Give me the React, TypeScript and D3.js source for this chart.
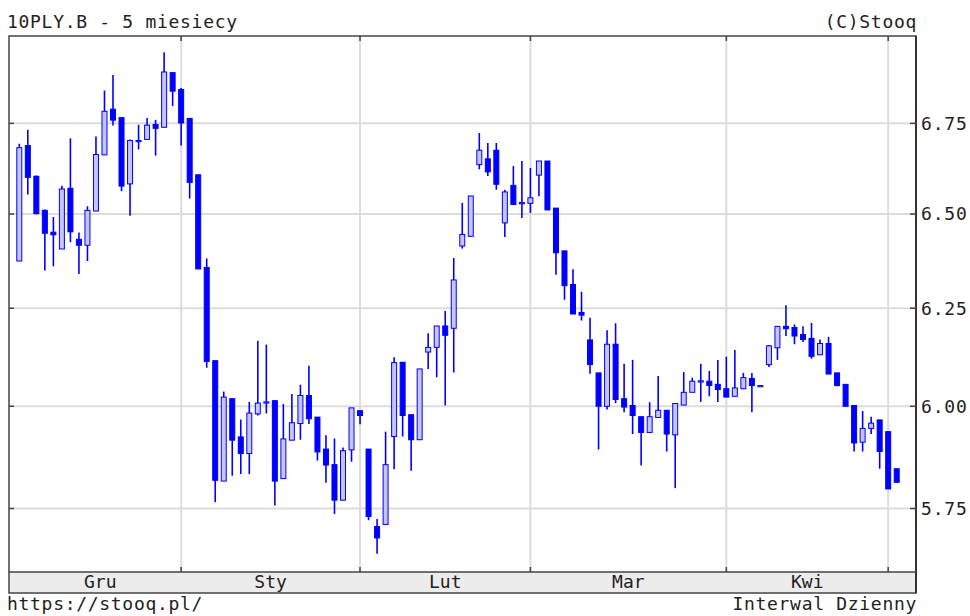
import { useEffect, useRef } from 'react';
import * as d3 from 'd3';

// daily candles, 10PLY.B (Dec -> early May)
const opens = [
  6.374, 6.688, 6.603, 6.51, 6.451, 6.406, 6.57, 6.432, 6.416, 6.508,
  6.662, 6.79, 6.766, 6.582, 6.7, 6.705, 6.747, 6.739, 6.894,
  6.846, 6.764, 6.607, 6.357, 6.115, 5.816, 6.019, 5.924, 5.883, 5.981,
  6.009, 6.014, 5.822, 5.916, 5.957, 6.027, 5.973, 5.894, 5.856, 5.77, 5.892,
  5.989, 5.894, 5.707, 5.712, 5.925, 6.111, 5.979, 5.917, 6.137, 6.149,
  6.204, 6.198, 6.414, 6.44, 6.635, 6.651, 6.675, 6.476, 6.578, 6.529,
  6.529, 6.606, 6.645, 6.516, 6.401, 6.312, 6.239, 6.168, 6.084, 6.0,
  6.157, 6.019, 6.002, 5.974, 5.935, 5.972, 5.99, 5.929, 6.003, 6.035,
  6.062, 6.063, 6.055,
  6.044, 6.025, 6.044, 6.07, 6.052, 6.105, 6.148, 6.203, 6.2, 6.182,
  6.172, 6.13, 6.159, 6.084, 6.055, 6.002, 5.911, 5.945, 5.966,
  5.937, 5.846,
];
const highs = [
  6.693, 6.732, 6.605, 6.512, 6.492, 6.577, 6.708, 6.45, 6.521, 6.713,
  6.843, 6.887, 6.766, 6.705, 6.746, 6.765, 6.76, 6.953, 6.894,
  6.85, 6.764, 6.607, 6.381, 6.115, 6.037, 6.019, 5.967, 6.011, 6.166,
  6.156, 6.014, 6.006, 6.031, 6.054, 6.102, 5.973, 5.928, 5.92, 5.898, 5.996,
  5.989, 5.894, 5.725, 5.937, 6.124, 6.111, 5.979, 6.094, 6.185, 6.204,
  6.243, 6.382, 6.53, 6.549, 6.723, 6.695, 6.695, 6.566, 6.631, 6.645,
  6.626, 6.645, 6.645, 6.516, 6.401, 6.352, 6.293, 6.225, 6.084, 6.193,
  6.211, 6.107, 6.117, 5.974, 6.01, 6.076, 5.99, 6.007, 6.086, 6.072,
  6.107, 6.089, 6.117,
  6.125, 6.142, 6.084, 6.084, 6.052, 6.155, 6.203, 6.258, 6.208, 6.203,
  6.212, 6.169, 6.176, 6.084, 6.055, 6.002, 5.988, 5.974, 5.966,
  5.937, 5.846,
];
const lows = [
  6.374, 6.553, 6.499, 6.349, 6.36, 6.406, 6.424, 6.34, 6.374, 6.508,
  6.662, 6.744, 6.562, 6.495, 6.677, 6.705, 6.66, 6.739, 6.799,
  6.688, 6.542, 6.353, 6.097, 5.765, 5.816, 5.829, 5.833, 5.833, 5.977,
  5.982, 5.757, 5.822, 5.916, 5.917, 5.956, 5.866, 5.812, 5.737, 5.77, 5.863,
  5.955, 5.722, 5.643, 5.712, 5.845, 5.925, 5.841, 5.917, 6.094, 6.073,
  6.002, 6.085, 6.407, 6.44, 6.622, 6.604, 6.566, 6.438, 6.526, 6.489,
  6.503, 6.548, 6.511, 6.338, 6.272, 6.235, 6.218, 6.082, 5.893, 5.992,
  6.008, 5.985, 5.931, 5.854, 5.935, 5.972, 5.888, 5.799, 6.003, 6.035,
  6.011, 6.025, 6.011,
  6.023, 6.025, 6.044, 5.985, 6.052, 6.099, 6.117, 6.178, 6.157, 6.163,
  6.12, 6.13, 6.081, 6.05, 6.0, 5.888, 5.888, 5.931, 5.846,
  5.797, 5.813,
];
const closes = [
  6.682, 6.6, 6.501, 6.448, 6.444, 6.568, 6.452, 6.416, 6.51, 6.663,
  6.784, 6.759, 6.576, 6.702, 6.702, 6.745, 6.736, 6.896, 6.841,
  6.751, 6.586, 6.353, 6.113, 5.818, 6.023, 5.916, 5.883, 5.983, 6.008,
  6.011, 5.816, 5.919, 5.959, 6.027, 5.969, 5.887, 5.855, 5.77, 5.89, 5.996,
  5.977, 5.731, 5.68, 5.856, 6.11, 5.977, 5.917, 6.094, 6.149, 6.204,
  6.18, 6.324, 6.445, 6.549, 6.675, 6.615, 6.581, 6.56, 6.526, 6.531,
  6.544, 6.645, 6.511, 6.396, 6.309, 6.235, 6.232, 6.105, 6.0, 6.157,
  6.017, 5.998, 5.977, 5.935, 5.974, 5.99, 5.931, 6.007, 6.035, 6.063,
  6.064, 6.052, 6.042,
  6.023, 6.046, 6.072, 6.052, 6.052, 6.153, 6.203, 6.197, 6.178, 6.169,
  6.126, 6.159, 6.081, 6.052, 6.0, 5.909, 5.945, 5.958, 5.888,
  5.797, 5.813,
];

// index of the first session of each month
const monthStarts = [19, 40, 60, 83, 102];
const monthLabels = ['Gru', 'Sty', 'Lut', 'Mar', 'Kwi'];
const yTicks = [5.75, 6.0, 6.25, 6.5, 6.75];

const title = '10PLY.B - 5 miesiecy';
const copyright = '(C)Stooq';
const siteUrl = 'https://stooq.pl/';
const interval = 'Interwal Dzienny';

export default function App() {
  const ref = useRef<SVGSVGElement | null>(null);

  useEffect(() => {
    if (!ref.current) return;
    const svg = d3.select(ref.current);
    svg.selectAll('*').remove();

    const width = 970;
    const height = 616;
    const left = 9;
    const right = 916;
    const top = 36;
    const bottom = 572;
    const bandBottom = 593;
    const font = '"DejaVu Sans Mono", "Liberation Mono", monospace';
    const ink = '#222';
    const frame = '#444';
    const blue = '#0000ff';

    const data = opens.map((o, i) => ({ i, o, h: highs[i], l: lows[i], c: closes[i] }));

    const x = d3.scaleLinear().domain([0, data.length - 1]).range([19.3, 896.7]);
    const y = d3.scaleLog().domain([5.6, 7.0]).range([bottom, top]);

    svg.attr('width', width).attr('height', height);
    svg.append('rect').attr('width', width).attr('height', height).attr('fill', '#fff');

    // grid
    svg.append('g')
      .selectAll('line')
      .data(yTicks)
      .enter()
      .append('line')
      .attr('x1', left).attr('x2', right)
      .attr('y1', d => y(d)).attr('y2', d => y(d))
      .attr('stroke', '#dcdcdc').attr('stroke-width', 2);

    svg.append('g')
      .selectAll('line')
      .data(monthStarts)
      .enter()
      .append('line')
      .attr('x1', d => x(d)).attr('x2', d => x(d))
      .attr('y1', top).attr('y2', bottom)
      .attr('stroke', '#dcdcdc').attr('stroke-width', 2);

    // candles
    const candles = svg.append('g');
    candles.selectAll('line')
      .data(data)
      .enter()
      .append('line')
      .attr('x1', d => x(d.i)).attr('x2', d => x(d.i))
      .attr('y1', d => y(d.h)).attr('y2', d => y(d.l))
      .attr('stroke', blue).attr('stroke-width', 1.6);

    candles.selectAll('rect')
      .data(data)
      .enter()
      .append('rect')
      .attr('x', d => x(d.i) - 2.5)
      .attr('width', 5)
      .attr('y', d => y(Math.max(d.o, d.c)))
      .attr('height', d => Math.max(1.2, y(Math.min(d.o, d.c)) - y(Math.max(d.o, d.c))))
      .attr('fill', d => (d.c < d.o ? blue : '#c4c4ff'))
      .attr('stroke', blue)
      .attr('stroke-width', 1);

    // frame and month band
    svg.append('rect')
      .attr('x', left).attr('y', bottom)
      .attr('width', right - left).attr('height', bandBottom - bottom)
      .attr('fill', '#ececec').attr('stroke', frame).attr('stroke-width', 1.5);
    svg.append('path')
      .attr('d', `M${left},${bottom}V${top}H${right}V${bandBottom}`)
      .attr('fill', 'none').attr('stroke', frame).attr('stroke-width', 1.5);
    svg.append('line')
      .attr('x1', right).attr('x2', right).attr('y1', top).attr('y2', bandBottom)
      .attr('stroke', '#333').attr('stroke-width', 2);

    // ticks
    const ticks = svg.append('g').attr('stroke', frame).attr('stroke-width', 1.5);
    yTicks.forEach(t => {
      ticks.append('line').attr('x1', left).attr('x2', left + 5).attr('y1', y(t)).attr('y2', y(t));
      ticks.append('line').attr('x1', right - 6).attr('x2', right).attr('y1', y(t)).attr('y2', y(t));
    });
    monthStarts.forEach(m => {
      ticks.append('line').attr('x1', x(m)).attr('x2', x(m)).attr('y1', top).attr('y2', top + 5);
      ticks.append('line').attr('x1', x(m)).attr('x2', x(m)).attr('y1', bottom - 5).attr('y2', bottom);
    });

    // y labels
    svg.append('g')
      .selectAll('text')
      .data(yTicks)
      .enter()
      .append('text')
      .attr('x', 921)
      .attr('y', d => y(d))
      .attr('dy', '0.36em')
      .attr('font-family', font).attr('font-size', 18).attr('letter-spacing', 0.8)
      .attr('fill', ink)
      .text(d => d.toFixed(2));

    // month labels
    const bounds = [0, ...monthStarts];
    svg.append('g')
      .selectAll('text')
      .data(monthLabels)
      .enter()
      .append('text')
      .attr('x', (_, k) => (x(bounds[k]) + x(bounds[k + 1])) / 2)
      .attr('y', 588)
      .attr('text-anchor', 'middle')
      .attr('font-family', font).attr('font-size', 18)
      .attr('fill', ink)
      .text(d => d);

    const label = (t: string, tx: number, ty: number, anchor: string) =>
      svg.append('text')
        .attr('x', tx).attr('y', ty)
        .attr('text-anchor', anchor)
        .attr('font-family', font).attr('font-size', 18).attr('letter-spacing', 0.7)
        .attr('fill', ink)
        .text(t);

    label(title, 7, 28, 'start');
    label(copyright, 917, 28, 'end');
    label(siteUrl, 7, 610, 'start');
    label(interval, 917, 610, 'end');
  }, []);

  return (
    <div style={{ position: 'absolute', left: 0, top: 0 }}>
      <svg ref={ref}></svg>
    </div>
  );
}
